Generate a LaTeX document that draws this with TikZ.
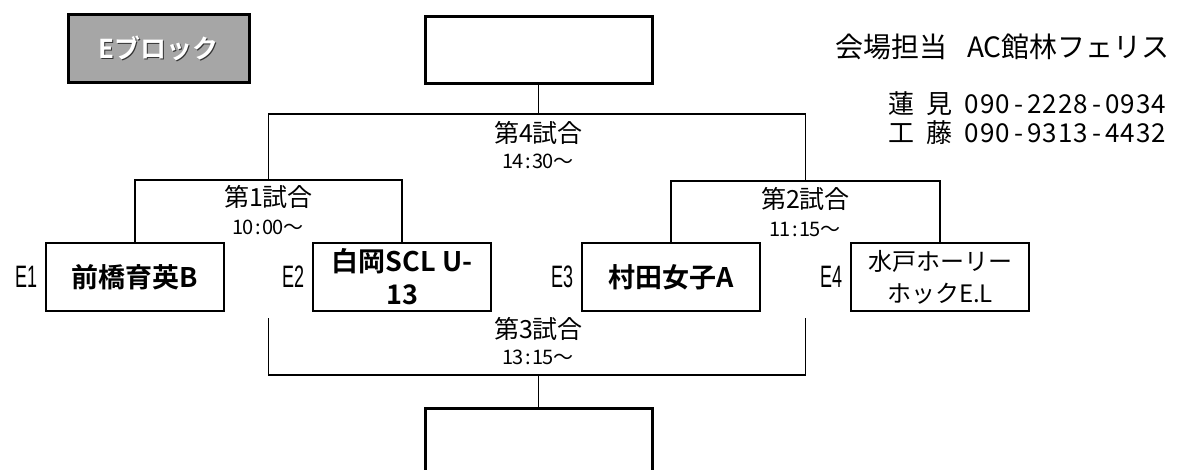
\documentclass[tikz,border=0pt]{standalone}
\usepackage{fontspec}
\setmainfont{Liberation Sans}
\newfontfamily\jp{Noto Sans CJK JP}[BoldFont={Noto Sans CJK JP Bold}]
\newfontfamily\lab{Liberation Sans}
\makeatletter
\newcommand\fixw[2]{\@tfor\fw@c:=#2\do{\makebox[#1]{\fw@c}}}
\makeatother
\begin{document}
\begin{tikzpicture}[x=1pt,y=-1pt,
  teambox/.style={draw, line width=1.6pt, minimum width=178pt, minimum height=68pt, inner sep=0pt, align=center, font=\jp\bfseries\fontsize{27}{33}\selectfont},
  winbox/.style={draw, line width=3pt, minimum width=227pt, minimum height=67pt, inner sep=0pt},
  blockbox/.style={draw, line width=3pt, fill=gray!70, minimum width=181pt, minimum height=68pt, inner sep=0pt},
  blocktext/.style={font=\jp\bfseries\fontsize{26}{26}\selectfont, inner sep=0pt},
  bracket/.style={line width=1.3pt},
  match/.style={font=\jp\fontsize{25}{26}\selectfont, inner sep=0pt},
  time/.style={font=\jp\fontsize{20}{21}\selectfont, inner sep=0pt},
  elabel/.style={font=\lab\fontsize{31}{31}\selectfont, inner sep=0pt, anchor=east},
  info/.style={font=\jp\fontsize{28}{28}\selectfont, inner sep=0pt, anchor=west},
  phone/.style={font=\jp\fontsize{26}{26}\selectfont, inner sep=0pt, anchor=west},
]
\useasboundingbox (0,0) rectangle (1189,469);
\clip (0,0) rectangle (1189,469);

% header
\node[blockbox] (blk) at (158.5,48) {};
\node[blocktext, text=black!80] (blkshadow) at (159.9,49.4) {Eブロック};
\node[blocktext, text=white] (blktext) at (158.5,48) {Eブロック};
\node[info] (venue) at (835,47) {会場担当\hspace{20pt}AC館林フェリス};
\node[phone] (p1) at (888,104) {蓮\hspace{12pt}見\hspace{12pt}\fixw{15.6pt}{090-2228-0934}};
\node[phone] (p2) at (888,133) {工\hspace{12pt}藤\hspace{12pt}\fixw{15.6pt}{090-9313-4432}};

% winner boxes
\node[winbox] (top) at (538.5,49.5) {};
\node[winbox] (bot) at (538.5,441.5) {};

% teams
\node[teambox] (e1) at (135,277) {前橋育英B};
\node[teambox] (e2) at (402,277) {白岡SCL U-\\13};
\node[teambox] (e3) at (671,277) {村田女子A};
\node[teambox, font=\jp\fontsize{24}{32}\selectfont] (e4) at (940,277) {水戸ホーリー\\ホックE.L};

\node[elabel] (l1) at ([xshift=-8pt]e1.west) {\scalebox{0.58}[1]{E1}};
\node[elabel] (l2) at ([xshift=-8pt]e2.west) {\scalebox{0.58}[1]{E2}};
\node[elabel] (l3) at ([xshift=-8pt]e3.west) {\scalebox{0.58}[1]{E3}};
\node[elabel] (l4) at ([xshift=-8pt]e4.west) {\scalebox{0.58}[1]{E4}};

% junctions
\coordinate (j4) at (538.5,114);
\coordinate (j1) at (268.5,180);
\coordinate (j2) at (805.5,181);
\coordinate (j3) at (538.5,375);
\coordinate (s1) at (268.5,318);
\coordinate (s2) at (805.5,318);

\draw[bracket] (top.south) -- (j4);
\draw[bracket] (j1) |- (j4) -| (j2);
\draw[bracket] (e1.north) |- (j1) -| (e2.north);
\draw[bracket] (e3.north) |- (j2) -| (e4.north);
\draw[bracket] (s1) |- (j3) -| (s2);
\draw[bracket] (j3) -- (bot.north);

% match labels
\node[match] (t4) at (538.5,133) {第4試合};
\node[time] (h4) at (538.5,161) {\fixw{0.5em}{14:30}〜};
\node[match] (t1) at (268.5,197) {第1試合};
\node[time] (h1) at (268.5,227) {\fixw{0.5em}{10:00}〜};
\node[match] (t2) at (805.5,199) {第2試合};
\node[time] (h2) at (805.5,229) {\fixw{0.5em}{11:15}〜};
\node[match] (t3) at (538.5,329) {第3試合};
\node[time] (h3) at (538.5,357) {\fixw{0.5em}{13:15}〜};
\end{tikzpicture}
\end{document}
